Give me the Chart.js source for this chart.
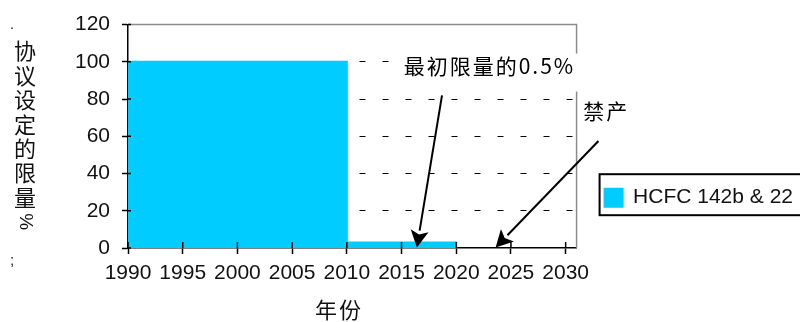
<!DOCTYPE html>
<html>
<head>
<meta charset="utf-8">
<script src="https://cdn.jsdelivr.net/npm/chart.js@4.4.0/dist/chart.umd.min.js"></script>
<style>
body{margin:0;background:#fff;}
#wrap{width:800px;height:322px;overflow:hidden;}
#box{width:830px;height:322px;}
</style>
</head>
<body>
<div id="wrap"><div id="box"><canvas id="myChart"></canvas></div></div>
<script>
// limit steps: value holds from each year until the next one
var years=[1990,2010,2020];
var limits=[100,3,0];
var seriesName='HCFC 142b & 22';
var yTitle=['协','议','设','定','的','限','量','%'];
var xTitle='年份';
var noteTexts=['最初限量的0.5%','禁产'];
// note anchors and arrows in axis units (year, %)
var noteAt=[[2015.2,98],[2031.6,73.5]];
var arrowFrom=[[2018.7,82],[2033,57.5]];
var arrowTo=[[2016.4,0.3],[2023.6,0.3]];

var points=[];
for(var i=0;i<years.length;i++){
  points.push({x:years[i],y:limits[i]});
}

var cjk='"Noto Sans CJK SC", sans-serif';

var extras={
  id:'extras',
  afterDatasetsDraw:function(chart){
    var ctx=chart.ctx, a=chart.chartArea, xs=chart.scales.x, ys=chart.scales.y;
    ctx.save();
    // grey frame on top and right
    ctx.strokeStyle='#8c8c8c';
    ctx.lineWidth=1.5;
    ctx.beginPath();
    ctx.moveTo(a.left,a.top);ctx.lineTo(a.right,a.top);ctx.lineTo(a.right,a.bottom);
    ctx.stroke();
    // small tick marks on the inside of both axes
    ctx.strokeStyle='#000';
    ctx.lineWidth=1.5;
    ctx.beginPath();
    xs.ticks.forEach(function(t){
      var px=xs.getPixelForValue(t.value);
      ctx.moveTo(px,a.bottom);ctx.lineTo(px,a.bottom-6);
    });
    ys.ticks.forEach(function(t){
      var py=ys.getPixelForValue(t.value);
      ctx.moveTo(a.left,py);ctx.lineTo(a.left+3,py);
    });
    ctx.stroke();

    // first note sits on a white box
    ctx.font='21px '+cjk;
    ctx.letterSpacing='2px';
    ctx.textBaseline='middle';
    ctx.textAlign='left';
    var nx=xs.getPixelForValue(noteAt[0][0]), ny=ys.getPixelForValue(noteAt[0][1]);
    var w=ctx.measureText(noteTexts[0]).width;
    ctx.fillStyle='#fff';
    ctx.fillRect(nx-6,ny-12,w+12,38);
    ctx.fillStyle='#000';
    ctx.fillText(noteTexts[0],nx,ny);
    ctx.fillText(noteTexts[1],xs.getPixelForValue(noteAt[1][0]),ys.getPixelForValue(noteAt[1][1]));
    ctx.letterSpacing='0px';

    // arrows
    for(var k=0;k<arrowFrom.length;k++){
      var x1=xs.getPixelForValue(arrowFrom[k][0]), y1=ys.getPixelForValue(arrowFrom[k][1]);
      var x2=xs.getPixelForValue(arrowTo[k][0]), y2=ys.getPixelForValue(arrowTo[k][1]);
      var ang=Math.atan2(y2-y1,x2-x1);
      var hl=17, hw=9;
      var bx=x2-hl*Math.cos(ang), by=y2-hl*Math.sin(ang);
      ctx.strokeStyle='#000';
      ctx.lineWidth=2;
      ctx.beginPath();
      ctx.moveTo(x1,y1);ctx.lineTo(bx,by);
      ctx.stroke();
      ctx.fillStyle='#000';
      ctx.beginPath();
      ctx.moveTo(x2,y2);
      ctx.lineTo(bx+hw*Math.sin(ang),by-hw*Math.cos(ang));
      ctx.lineTo(x2-(hl-4)*Math.cos(ang),y2-(hl-4)*Math.sin(ang));
      ctx.lineTo(bx-hw*Math.sin(ang),by+hw*Math.cos(ang));
      ctx.closePath();
      ctx.fill();
    }
    ctx.restore();
  },
  afterDraw:function(chart){
    var ctx=chart.ctx, a=chart.chartArea, lg=chart.legend;
    ctx.save();
    // frame round the legend
    var hb=lg.legendHitBoxes[0];
    ctx.strokeStyle='#000';
    ctx.lineWidth=2;
    ctx.strokeRect(hb.left-5,hb.top-13,260,41);
    // y title, one character under the other
    ctx.fillStyle='#111';
    ctx.font='22px '+cjk;
    ctx.textAlign='center';
    ctx.textBaseline='middle';
    for(var i=0;i<yTitle.length;i++){
      var cy=51+i*24.4;
      if(yTitle[i]=='%'){
        ctx.save();
        ctx.translate(25,cy);ctx.rotate(Math.PI/2);
        ctx.font='19px "Liberation Sans", sans-serif';
        ctx.fillText(yTitle[i],0,0);
        ctx.restore();
      }else{
        ctx.fillText(yTitle[i],25,cy);
      }
    }
    ctx.font='15px "Liberation Sans", sans-serif';
    ctx.fillText('·',12,28);
    ctx.fillText(';',12,261);
    // x title
    ctx.font='22px '+cjk;
    ctx.letterSpacing='2px';
    ctx.fillText(xTitle,339,310);
    ctx.restore();
  }
};

Chart.defaults.font.family='"Liberation Sans", Arial, sans-serif';
Chart.defaults.font.size=21;
Chart.defaults.color='#111';

var chartContainer=document.getElementById('myChart');
var myChart=new Chart(chartContainer,{
  type:'line',
  data:{
    datasets:[{
      label:seriesName,
      data:points,
      stepped:true,
      fill:'origin',
      backgroundColor:'#00CCFF',
      borderColor:'#00CCFF',
      borderWidth:2,
      pointRadius:0
    }]
  },
  options:{
    responsive:true,
    maintainAspectRatio:false,
    animation:false,
    layout:{padding:{left:0,top:23,right:27,bottom:0}},
    plugins:{
      tooltip:{enabled:false},
      legend:{
        position:'right',
        align:'start',
        maxWidth:300,
        title:{display:true,text:'',padding:{top:111,bottom:0}},
        labels:{boxWidth:18,boxHeight:18,padding:28,color:'#111',font:{size:21}}
      }
    },
    scales:{
      x:{
        type:'linear',
        min:1990,
        max:2031,
        afterFit:function(s){s.height=74;},
        ticks:{stepSize:5,includeBounds:false,padding:7,maxRotation:0,autoSkip:false,
          callback:function(v){return String(v);}},
        grid:{drawOnChartArea:false,tickLength:6,tickColor:'#000',tickWidth:1.5},
        border:{color:'#000',width:1.5}
      },
      y:{
        min:0,
        max:120,
        afterFit:function(s){s.width=128;},
        ticks:{stepSize:20,padding:12},
        grid:{
          color:function(c){return (c.tick.value==0||c.tick.value==120)?'rgba(0,0,0,0)':'#000';},
          lineWidth:1,
          tickLength:6,tickColor:'#000',tickWidth:1.5
        },
        border:{color:'#000',width:1.5,dash:[6,17],dashOffset:-1}
      }
    }
  },
  plugins:[extras]
});
</script>
</body>
</html>
